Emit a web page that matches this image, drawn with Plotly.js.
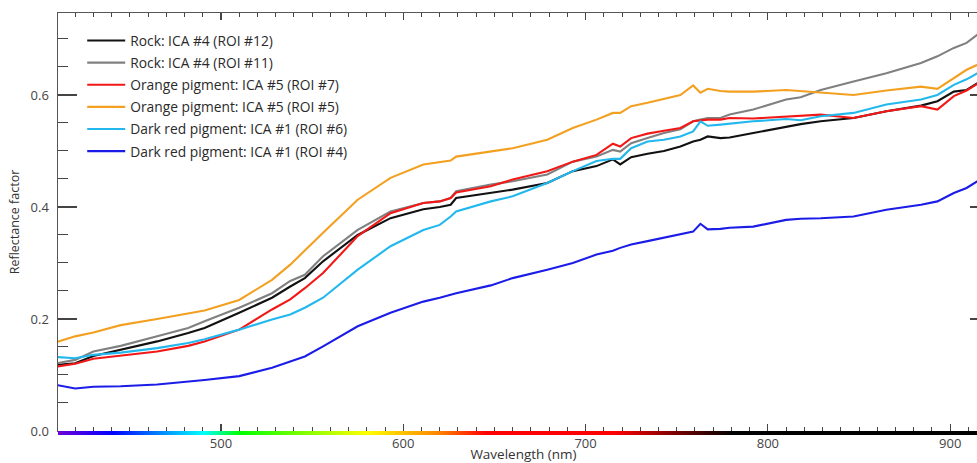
<!DOCTYPE html>
<html>
<head>
<meta charset="utf-8">
<script src="https://cdn.plot.ly/plotly-3.0.1.min.js"></script>
<style>
html, body { margin: 0; padding: 0; overflow: hidden; background: #fff; }
#chart { width: 990px; height: 463px; }
</style>
</head>
<body>
<div id="chart"></div>
<script>
// Wavelength grid (nm)
const wavelength = [410, 420, 430, 445, 465, 482, 491, 510, 528, 538, 546, 556, 575, 593, 611, 620, 626, 629, 648, 660, 679, 693, 706, 715, 719, 725, 734, 743, 752, 759, 763, 767, 774, 779, 792, 810, 818, 829, 847, 865, 884, 893, 902, 909, 915];

// Reflectance factor series
const rockROI12 = [0.118, 0.121, 0.134, 0.145, 0.160, 0.175, 0.184, 0.211, 0.238, 0.258, 0.273, 0.303, 0.350, 0.380, 0.396, 0.400, 0.404, 0.416, 0.425, 0.431, 0.443, 0.464, 0.473, 0.485, 0.476, 0.489, 0.495, 0.500, 0.508, 0.517, 0.520, 0.526, 0.523, 0.524, 0.532, 0.544, 0.548, 0.553, 0.559, 0.571, 0.581, 0.589, 0.606, 0.609, 0.621];
const rockROI11 = [0.121, 0.127, 0.142, 0.152, 0.169, 0.184, 0.196, 0.220, 0.246, 0.268, 0.279, 0.312, 0.359, 0.392, 0.407, 0.410, 0.416, 0.428, 0.440, 0.446, 0.458, 0.481, 0.490, 0.502, 0.499, 0.514, 0.523, 0.532, 0.539, 0.553, 0.556, 0.559, 0.559, 0.565, 0.574, 0.592, 0.596, 0.609, 0.624, 0.639, 0.657, 0.669, 0.684, 0.693, 0.708];
const orangeROI7 = [0.115, 0.120, 0.129, 0.134, 0.142, 0.152, 0.160, 0.181, 0.217, 0.235, 0.255, 0.282, 0.348, 0.389, 0.407, 0.410, 0.416, 0.426, 0.437, 0.449, 0.464, 0.481, 0.493, 0.513, 0.508, 0.523, 0.531, 0.536, 0.541, 0.553, 0.554, 0.556, 0.556, 0.559, 0.558, 0.562, 0.563, 0.565, 0.559, 0.571, 0.580, 0.574, 0.598, 0.608, 0.620];
const orangeROI5 = [0.159, 0.169, 0.176, 0.189, 0.200, 0.210, 0.215, 0.234, 0.270, 0.297, 0.323, 0.354, 0.413, 0.452, 0.476, 0.480, 0.483, 0.490, 0.499, 0.505, 0.520, 0.541, 0.556, 0.568, 0.568, 0.580, 0.586, 0.593, 0.600, 0.617, 0.604, 0.611, 0.607, 0.606, 0.606, 0.609, 0.607, 0.605, 0.600, 0.608, 0.615, 0.611, 0.630, 0.645, 0.654];
const darkRedROI6 = [0.132, 0.130, 0.136, 0.140, 0.148, 0.157, 0.164, 0.181, 0.199, 0.208, 0.220, 0.238, 0.288, 0.330, 0.359, 0.368, 0.383, 0.392, 0.410, 0.419, 0.443, 0.464, 0.482, 0.486, 0.486, 0.505, 0.517, 0.520, 0.526, 0.535, 0.553, 0.545, 0.547, 0.549, 0.553, 0.557, 0.555, 0.562, 0.568, 0.583, 0.592, 0.600, 0.618, 0.628, 0.639];
const darkRedROI4 = [0.082, 0.076, 0.079, 0.080, 0.083, 0.088, 0.091, 0.098, 0.113, 0.124, 0.133, 0.151, 0.187, 0.211, 0.231, 0.238, 0.243, 0.246, 0.260, 0.273, 0.288, 0.300, 0.315, 0.322, 0.327, 0.333, 0.339, 0.345, 0.351, 0.356, 0.370, 0.360, 0.361, 0.363, 0.365, 0.377, 0.379, 0.380, 0.383, 0.395, 0.404, 0.410, 0.425, 0.434, 0.446];

const seriesNames = [
  "Rock: ICA #4 (ROI #12)",
  "Rock: ICA #4 (ROI #11)",
  "Orange pigment: ICA #5 (ROI #7)",
  "Orange pigment: ICA #5 (ROI #5)",
  "Dark red pigment: ICA #1 (ROI #6)",
  "Dark red pigment: ICA #1 (ROI #4)"
];
const seriesValues = [rockROI12, rockROI11, orangeROI7, orangeROI5, darkRedROI6, darkRedROI4];
const seriesColors = ["#111111", "#808080", "#f21818", "#f3a020", "#22b8ee", "#1c1ce8"];

// Visible-spectrum colour strip under the wavelength axis
const spectrumWavelengths = [410, 440, 490, 510, 580, 620, 645, 715, 780, 920];
const spectrumColors = ["#7000d8", "#0000ff", "#00ffff", "#00ff00", "#ffff00", "#ff8000", "#ff0000", "#ff0000", "#000000", "#000000"];

const wlMin = spectrumWavelengths[0];
const wlMax = spectrumWavelengths[spectrumWavelengths.length - 1];
const spectrumScale = spectrumWavelengths.map((w, i) => [(w - wlMin) / (wlMax - wlMin), spectrumColors[i]]);

const traces = [];
traces.push({
  type: "heatmap",
  x: spectrumWavelengths,
  y: [0, 1],
  z: [spectrumWavelengths, spectrumWavelengths],
  zmin: wlMin, zmax: wlMax,
  colorscale: spectrumScale,
  zsmooth: "best",
  showscale: false,
  xaxis: "x", yaxis: "y2",
  hoverinfo: "skip",
  showlegend: false
});
seriesNames.forEach((name, i) => {
  traces.push({
    type: "scatter",
    mode: "lines",
    name: name,
    legendgroup: "g" + i,
    x: wavelength,
    y: seriesValues[i],
    line: { color: seriesColors[i], width: 2.1 },
    xaxis: "x", yaxis: "y"
  });
});

const fontFam = "'Open Sans', Lato, sans-serif";
const layout = {
  width: 990,
  height: 463,
  margin: { l: 58, r: 1, t: 13, b: 28 },
  paper_bgcolor: "#ffffff",
  plot_bgcolor: "#ffffff",
  font: { family: fontFam, size: 13, color: "#444444" },
  showlegend: true,
  legend: {
    x: 0.026, y: 0.9716, xanchor: "left", yanchor: "top",
    bgcolor: "rgba(0,0,0,0)",
    font: { family: fontFam, size: 13.8, color: "#2a2a2a" },
    itemwidth: 38,
    tracegroupgap: 1.2
  },
  xaxis: {
    range: [410.6, 921.3],
    anchor: "y",
    showgrid: false,
    zeroline: false,
    showline: true,
    linecolor: "#555555",
    linewidth: 1.5,
    mirror: "ticks",
    ticks: "inside",
    ticklen: 7,
    tickwidth: 1.2,
    tickcolor: "#444444",
    dtick: 100,
    tick0: 500,
    minor: { ticks: "inside", dtick: 10, ticklen: 3.5, tickwidth: 1, tickcolor: "#444444", showgrid: false },
    tickfont: { family: fontFam, size: 13, color: "#444444" },
    title: { text: "Wavelength (nm)", font: { family: fontFam, size: 13.5, color: "#333333" }, standoff: 2 }
  },
  yaxis: {
    domain: [0.0095, 1],
    range: [0, 0.7464],
    anchor: "x",
    showgrid: false,
    zeroline: false,
    showline: true,
    linecolor: "#555555",
    linewidth: 1.5,
    mirror: "ticks",
    ticks: "inside",
    ticklen: 19,
    tickwidth: 1.2,
    tickcolor: "#444444",
    dtick: 0.2,
    tick0: 0,
    tickformat: ".1f",
    minor: { ticks: "inside", dtick: 0.05, ticklen: 10, tickwidth: 1, tickcolor: "#444444", showgrid: false },
    tickfont: { family: fontFam, size: 13, color: "#444444" },
    ticklabelstandoff: 5,
    title: { text: "Reflectance factor", font: { family: fontFam, size: 12.5, color: "#333333" }, standoff: 8 }
  },
  yaxis2: {
    domain: [0, 0.0095],
    range: [-0.5, 1.5],
    anchor: "x",
    showgrid: false,
    zeroline: false,
    showline: false,
    showticklabels: false,
    ticks: ""
  }
};

Plotly.newPlot("chart", traces, layout, { staticPlot: true, displayModeBar: false });
</script>
</body>
</html>
